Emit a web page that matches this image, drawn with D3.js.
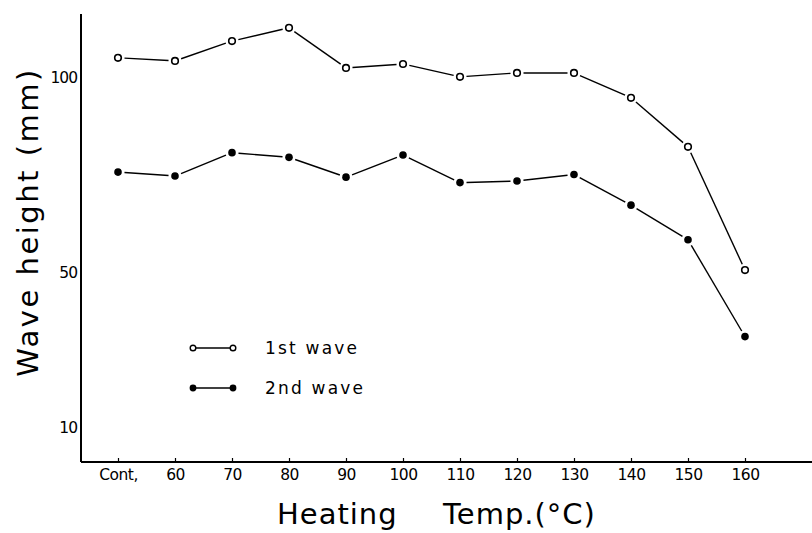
<!DOCTYPE html>
<html>
<head>
<meta charset="utf-8">
<script src="https://cdn.jsdelivr.net/npm/d3@7"></script>
<style>
  html, body { margin: 0; padding: 0; background: #fff; }
  svg { display: block; }
  text { fill: #000; }
</style>
</head>
<body>
<svg id="chart" width="812" height="533"></svg>
<script>
// ---- data ----
const categories = ["Cont.", "60", "70", "80", "90", "100", "110", "120", "130", "140", "150", "160"];
const tickLabels = ["Cont,", "60", "70", "80", "90", "100", "110", "120", "130", "140", "150", "160"];
const firstWave  = [105.2, 104.4, 109.5, 112.9, 102.6, 103.6, 100.3, 101.3, 101.3, 94.9, 82.3, 50.6];
const secondWave = [75.8, 74.8, 80.8, 79.6, 74.5, 80.2, 73.1, 73.5, 75.2, 67.3, 58.4, 33.5];
const yTickValues = [100, 50, 10];
const seriesNames = ["1st wave", "2nd wave"];

// ---- layout ----
const svg = d3.select("#chart");
const axisX = 81, axisBottom = 462, axisTop = 14, axisRight = 812;
const font = "'DejaVu Sans', sans-serif";

const x = d3.scalePoint().domain(categories).range([118, 745]);
const y = d3.scaleLinear().domain([10, 100]).range([428, 78]);

// axes lines
svg.append("line").attr("x1", axisX).attr("x2", axisX).attr("y1", axisTop).attr("y2", axisBottom)
  .attr("stroke", "#000").attr("stroke-width", 2);
svg.append("line").attr("x1", axisX).attr("x2", axisRight).attr("y1", axisBottom).attr("y2", axisBottom)
  .attr("stroke", "#000").attr("stroke-width", 2);

// x axis ticks (small, pointing up) and labels
const xAxis = d3.axisBottom(x).tickSize(0).tickFormat((d, i) => tickLabels[i]);
const gx = svg.append("g").attr("transform", `translate(0,${axisBottom})`).call(xAxis);
gx.select(".domain").remove();
gx.selectAll(".tick text").attr("font-family", font).attr("font-size", 15.5)
  .attr("dy", "0.9em").attr("y", 4).style("letter-spacing", "-0.5px");
gx.selectAll(".tick").append("line").attr("y1", 0).attr("y2", -4).attr("stroke", "#000").attr("stroke-width", 1.2);

// y axis labels
const yAxis = d3.axisLeft(y).tickValues(yTickValues).tickSize(0).tickFormat(d3.format("d"));
const gy = svg.append("g").attr("transform", `translate(${axisX},0)`).call(yAxis);
gy.select(".domain").remove();
gy.selectAll(".tick text").attr("font-family", font).attr("font-size", 15.5).attr("x", -4)
  .style("letter-spacing", "-1px");

// ---- series ----
const gap = 6.5;
function drawSeries(values, filled, r) {
  const pts = values.map((v, i) => [x(categories[i]), y(v)]);
  const g = svg.append("g");
  for (let i = 0; i < pts.length - 1; i++) {
    const [x1, y1] = pts[i], [x2, y2] = pts[i + 1];
    const dx = x2 - x1, dy = y2 - y1, L = Math.hypot(dx, dy);
    const ux = dx / L, uy = dy / L;
    g.append("line")
      .attr("x1", x1 + ux * gap).attr("y1", y1 + uy * gap)
      .attr("x2", x2 - ux * gap).attr("y2", y2 - uy * gap)
      .attr("stroke", "#000").attr("stroke-width", 1.4);
  }
  g.selectAll("circle").data(pts).join("circle")
    .attr("cx", d => d[0]).attr("cy", d => d[1]).attr("r", r)
    .attr("fill", filled ? "#000" : "#fff").attr("stroke", "#000").attr("stroke-width", filled ? 0 : 1.6);
}
drawSeries(firstWave, false, 3.3);
drawSeries(secondWave, true, 3.8);

// ---- legend ----
const legend = svg.append("g");
[0, 1].forEach(i => {
  const ly = 348 + i * 40;
  legend.append("line").attr("x1", 196).attr("x2", 230).attr("y1", ly).attr("y2", ly)
    .attr("stroke", "#000").attr("stroke-width", 1.3);
  [193, 233].forEach(cx => legend.append("circle").attr("cx", cx).attr("cy", ly).attr("r", i === 0 ? 2.8 : 3.4)
    .attr("fill", i === 0 ? "#fff" : "#000").attr("stroke", "#000").attr("stroke-width", i === 0 ? 1.4 : 0));
  legend.append("text").attr("x", 265).attr("y", ly).attr("dy", "0.35em")
    .attr("font-family", font).attr("font-size", 17).style("letter-spacing", "2.2px")
    .text(seriesNames[i]);
});

// ---- axis titles ----
svg.append("text")
  .attr("transform", "translate(38,222) rotate(-90)")
  .attr("text-anchor", "middle")
  .attr("font-family", font).attr("font-size", 29).style("letter-spacing", "2.5px")
  .text("Wave height (mm)");

svg.append("text").attr("x", 277).attr("y", 524)
  .attr("font-family", font).attr("font-size", 29).style("letter-spacing", "1px")
  .text("Heating");
svg.append("text").attr("x", 443).attr("y", 524)
  .attr("font-family", font).attr("font-size", 29).style("letter-spacing", "1px")
  .text("Temp.(°C)");
</script>
</body>
</html>
